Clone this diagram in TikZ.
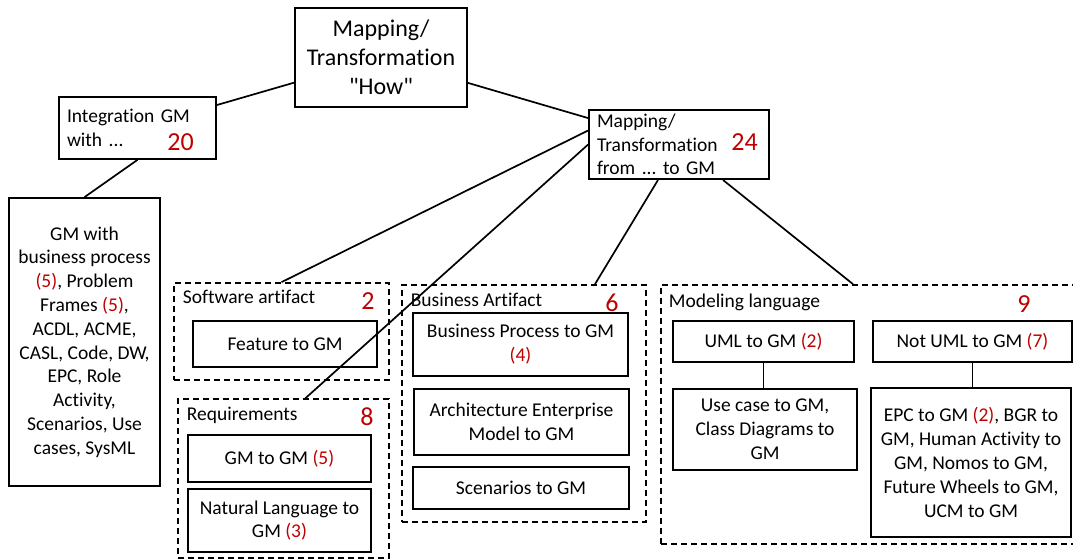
\documentclass[tikz,border=0pt]{standalone}
\usepackage{fontspec}
\setmainfont{Carlito}[Ligatures={TeXOff,CommonOff}]
\usetikzlibrary{positioning}
\definecolor{numred}{RGB}{192,0,0}
\newcommand{\cnt}[1]{\textcolor{numred}{#1}}
\frenchspacing

\begin{document}
\begin{tikzpicture}[x=1pt, y=-1pt, line width=1.7pt,
  every node/.style={font=\fontsize{19.5}{23.8}\selectfont},
  box/.style={draw, rectangle, align=center, inner sep=4pt},
  leftbox/.style={box, align=left, inner xsep=8pt},
  group/.style={draw, rectangle, dash pattern=on 6pt off 4pt},
  grouplabel/.style={anchor=west, inner sep=0pt},
  num/.style={text=numred, inner sep=0pt, font=\fontsize{26}{30}\selectfont},
]
  \useasboundingbox (0,0) rectangle (1073,559);

  \node[box, minimum width=172, minimum height=99, font=\fontsize{24}{29}\selectfont] (how) at (381,57.5)
    {Mapping/\\Transformation\\"How"};

  \node[leftbox, minimum width=157, minimum height=62, text width=141] (integ) at (137.5,128)
    {Integration GM\\with ...};
  \node[num] (integnum) at (180.5,142) {20};

  \node[box, minimum width=151, minimum height=288] (withlist) at (84.5,342)
    {GM with\\business process\\\cnt{(5)}, Problem\\Frames \cnt{(5)},\\ACDL, ACME,\\CASL, Code, DW,\\EPC, Role\\Activity,\\Scenarios, Use\\cases, SysML};

  \node[leftbox, minimum width=180, minimum height=69, text width=164] (fromto) at (679,144.5)
    {Mapping/\\Transformation\\from ... to GM};
  \node[num] (fromtonum) at (744.5,142) {24};

  % software artifact
  \node[group, minimum width=215, minimum height=97] (soft) at (281.5,331.5) {};
  \node[grouplabel] (softlabel) at (182,297) {Software artifact};
  \node[num] (softnum) at (368,301) {2};
  \node[box, minimum width=184, minimum height=46] (feature) at (285,344) {Feature to GM};

  % requirements
  \node[group, minimum width=211, minimum height=159] (req) at (283.5,478.5) {};
  \node[grouplabel] (reqlabel) at (186,415) {Requirements};
  \node[num] (reqnum) at (367,417) {8};
  \node[box, minimum width=183, minimum height=47] (gmgm) at (279.5,458.5) {GM to GM \cnt{(5)}};
  \node[box, minimum width=183, minimum height=63] (natlang) at (279.5,520.5) {Natural Language to\\GM \cnt{(3)}};

  % business artifact
  \node[group, minimum width=244, minimum height=237] (bus) at (524,403.5) {};
  \node[grouplabel] (buslabel) at (410,300) {Business Artifact};
  \node[num] (busnum) at (612,303) {6};
  \node[box, minimum width=215, minimum height=63] (bproc) at (520.5,344.5) {Business Process to GM\\\cnt{(4)}};
  \node[box, minimum width=215, minimum height=66] (archent) at (521.5,422) {Architecture Enterprise\\Model to GM};
  \node[box, minimum width=216, minimum height=42] (scen) at (521,488) {Scenarios to GM};

  % modeling language
  \node[group, minimum width=424, minimum height=259] (model) at (873,414.5) {};
  \node[grouplabel] (modellabel) at (668,302) {Modeling language};
  \node[num] (modelnum) at (1024,304) {9};
  \node[box, minimum width=181, minimum height=41] (uml) at (763.5,341.5) {UML to GM \cnt{(2)}};
  \node[box, minimum width=199, minimum height=41] (notuml) at (972.5,341.5) {Not UML to GM \cnt{(7)}};
  \node[box, minimum width=184, minimum height=81] (usecase) at (765,429.5)
    {Use case to GM,\\Class Diagrams to\\GM};
  \node[box, minimum width=200, minimum height=149] (epc) at (971,462.5)
    {EPC to GM \cnt{(2)}, BGR to\\GM, Human Activity to\\GM, Nomos to GM,\\Future Wheels to GM,\\UCM to GM};

  \draw (how) -- (integ);
  \draw (how) -- (fromto);
  \draw (integ.south) -- (withlist.north);
  \draw ([yshift=14pt]fromto.west) -- (soft.north);
  \draw (fromto.west) -- ([xshift=22pt]req.north);
  \draw ([xshift=-21pt]fromto.south) -- ([xshift=71pt]bus.north);
  \draw ([xshift=44pt]fromto.south) -- ([xshift=-20pt]model.north);
  \draw (uml.south) -- (uml.south |- usecase.north);
  \draw (notuml.south) -- (notuml.south |- epc.north);
\end{tikzpicture}
\end{document}
